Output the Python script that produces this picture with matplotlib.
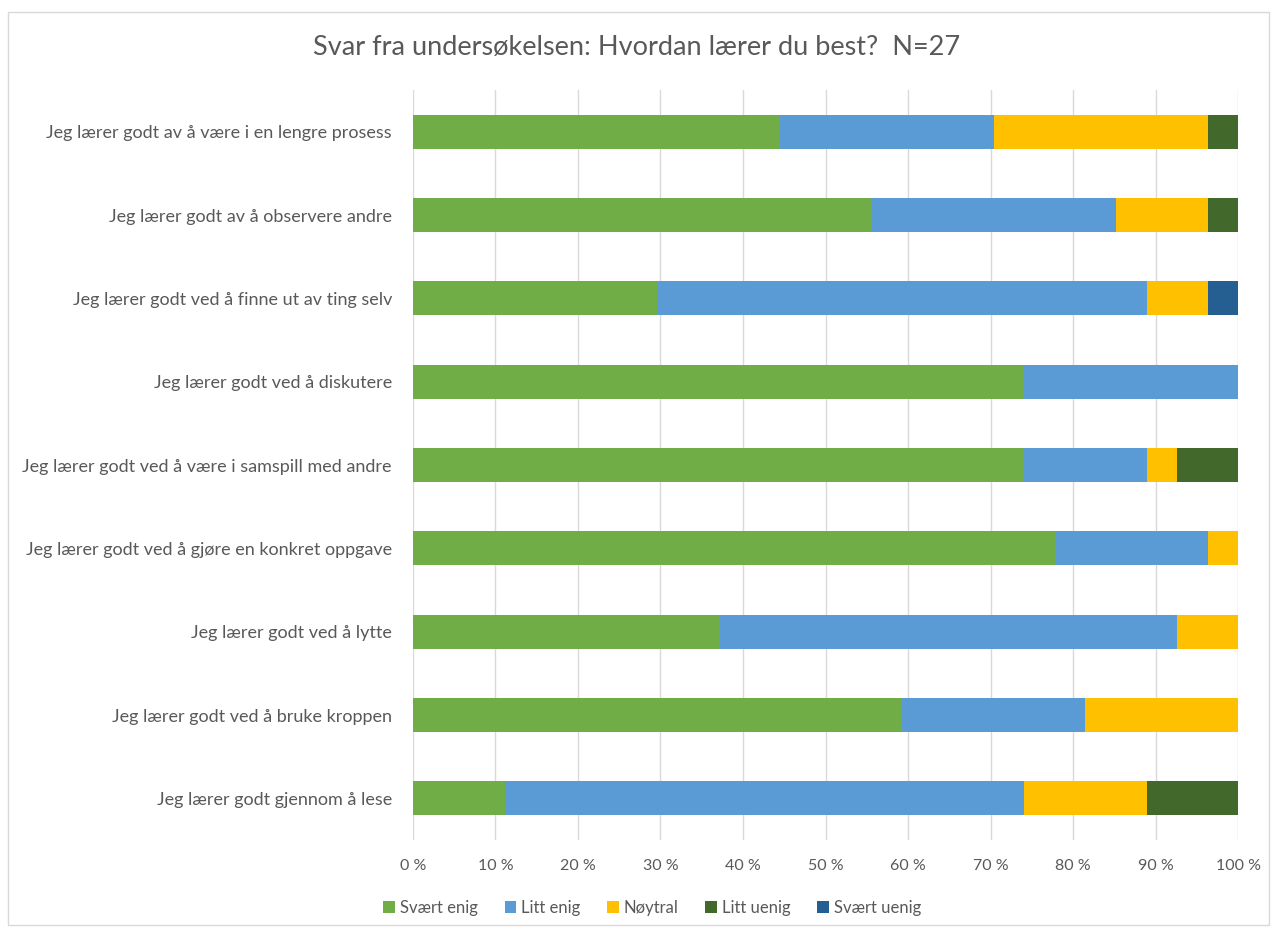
import numpy as np
import matplotlib.pyplot as plt
from matplotlib.patches import Rectangle
from matplotlib.ticker import FuncFormatter

plt.rcParams['font.family'] = ['Lato', 'DejaVu Sans']

statements = [
    'Jeg lærer godt av å være i en lengre prosess',
    'Jeg lærer godt av å observere andre',
    'Jeg lærer godt ved å finne ut av ting selv',
    'Jeg lærer godt ved å diskutere',
    'Jeg lærer godt ved å være i samspill med andre',
    'Jeg lærer godt ved å gjøre en konkret oppgave',
    'Jeg lærer godt ved å lytte',
    'Jeg lærer godt ved å bruke kroppen',
    'Jeg lærer godt gjennom å lese',
]
answers = ['Svært enig', 'Litt enig', 'Nøytral', 'Litt uenig', 'Svært uenig']
# antall svar per påstand (N=27)
svaert_enig = [12, 15, 8, 20, 20, 21, 10, 16, 3]
litt_enig = [7, 8, 16, 7, 4, 5, 15, 6, 17]
noytral = [7, 3, 2, 0, 1, 1, 2, 5, 4]
litt_uenig = [1, 1, 0, 0, 2, 0, 0, 0, 3]
svaert_uenig = [0, 0, 1, 0, 0, 0, 0, 0, 0]
N = 27

colors = ['#70AD47', '#5B9BD5', '#FFC000', '#43682B', '#255E91']
series = [svaert_enig, litt_enig, noytral, litt_uenig, svaert_uenig]

fig = plt.figure(figsize=(12.74, 9.34), dpi=100)
ax = fig.add_axes([0.324, 0.1006, 0.648, 0.803])

y = np.arange(len(statements))
left = np.zeros(len(statements))
for vals, col, lab in zip(series, colors, answers):
    pct = np.array(vals) / N * 100
    ax.barh(y, pct, left=left, height=0.41, color=col, label=lab, zorder=3)
    left += pct

ax.set_xlim(0, 100)
ax.set_ylim(8.5, -0.5)
ax.set_xticks(range(0, 101, 10))
ax.xaxis.set_major_formatter(FuncFormatter(lambda v, p: f'{int(v)} %'))
ax.set_yticks(y)
ax.set_yticklabels(statements)
ax.grid(axis='x', color='#D9D9D9', linewidth=1, zorder=0)
for s in ax.spines.values():
    s.set_visible(False)
ax.tick_params(length=0, colors='#595959')
ax.tick_params(axis='x', pad=14, labelsize=11.5)
ax.tick_params(axis='y', pad=15, labelsize=13)

fig.suptitle('Svar fra undersøkelsen: Hvordan lærer du best?  N=27', y=0.962,
             fontsize=19.5, color='#595959')

fig.legend(loc='center', bbox_to_anchor=(0.512, 0.028), ncol=5, frameon=False,
           fontsize=12, labelcolor='#595959', handlelength=0.7, handleheight=0.7,
           handletextpad=0.3, columnspacing=1.6)

fig.patches.append(Rectangle((0.006, 0.01), 0.99, 0.977, transform=fig.transFigure,
                             fill=False, edgecolor='#D9D9D9', linewidth=1))

fig.savefig('out.png', dpi=100, facecolor='white')
